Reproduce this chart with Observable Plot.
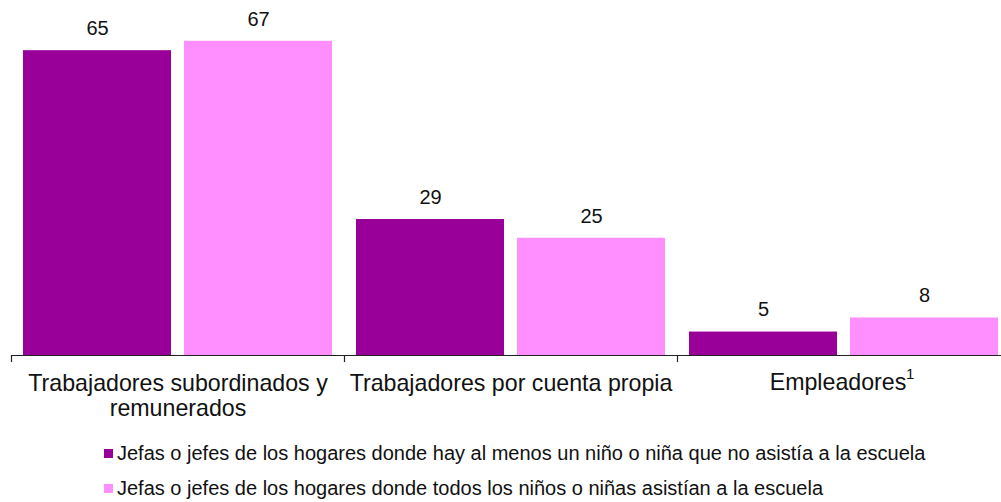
<!DOCTYPE html>
<html>
<head>
<meta charset="utf-8">
<script src="https://cdn.jsdelivr.net/npm/d3@7"></script>
<script src="https://cdn.jsdelivr.net/npm/@observablehq/plot@0.6"></script>
<style>
  html, body { margin: 0; padding: 0; background: #fff; }
  #wrap { position: relative; width: 1001px; height: 502px; overflow: hidden; font-family: "Liberation Sans", Arial, sans-serif; }
  #chart { position: absolute; left: 0; top: 0; width: 1010px; }
  #chart svg { max-width: none !important; }
  .leg { position: absolute; left: 104px; font-size: 20px; color: #111; white-space: nowrap; display: flex; align-items: center; }
  .sw { display: inline-block; width: 9px; height: 9px; margin-right: 4px; }
</style>
</head>
<body>
<div id="wrap">
  <div id="chart"></div>
  <div id="legend"></div>
</div>
<script>
const categories = ["Trabajadores subordinados y\nremunerados", "Trabajadores por cuenta propia", "Empleadores"];
const footnotes = ["", "", "1"];
const seriesNames = [
  "Jefas o jefes de los hogares donde hay al menos un niño o niña que no asistía a la escuela",
  "Jefas o jefes de los hogares donde todos los niños o niñas asistían a la escuela"
];
const seriesNoAsiste = [65, 29, 5];
const seriesAsisten = [67, 25, 8];
const colors = ["#990099", "#ff8fff"];

const d1 = categories.map((c, i) => ({cat: c, v: seriesNoAsiste[i]}));
const d2 = categories.map((c, i) => ({cat: c, v: seriesAsisten[i]}));
const labels = categories.map((c, i) => ({cat: c, note: footnotes[i]}));
const plain = labels.filter(d => !d.note);
const noted = labels.filter(d => d.note);

const half = 80.5;
const labelSize = 23.2;
const chart = Plot.plot({
  width: 1010,
  height: 430,
  marginLeft: 11,
  marginRight: 0,
  marginTop: 0,
  marginBottom: 75,
  style: {fontFamily: "Liberation Sans, Arial, sans-serif", color: "#111", background: "transparent", maxWidth: "none"},
  x: {domain: categories, padding: 0, axis: null},
  y: {domain: [0, 75.7], axis: null},
  marks: [
    Plot.barY(d1, {x: "cat", y: "v", fill: colors[0], insetLeft: 12, insetRight: 173}),
    Plot.barY(d2, {x: "cat", y: "v", fill: colors[1], insetLeft: 173, insetRight: 12}),
    Plot.text(d1, {x: "cat", y: "v", text: d => String(d.v), dx: -half, dy: -22, fontSize: 20, fill: "#111"}),
    Plot.text(d2, {x: "cat", y: "v", text: d => String(d.v), dx: half, dy: -22, fontSize: 20, fill: "#111"}),
    Plot.ruleY([0], {stroke: "#222", strokeWidth: 1.2}),
    Plot.ruleX(categories, {x: d => d, dx: -166.5, y1: 0, y2: -1.5, stroke: "#222", strokeWidth: 1.2}),
    Plot.text(plain, {x: "cat", y: () => 0, text: "cat", lineAnchor: "top", dy: 18, fontSize: labelSize, lineHeight: 1.08, fill: "#111"}),
    Plot.text(noted, {x: "cat", y: () => 0, text: "cat", lineAnchor: "top", dy: 18, dx: -6, fontSize: labelSize, fill: "#111"}),
    Plot.text(noted, {x: "cat", y: () => 0, text: "note", lineAnchor: "top", textAnchor: "start", dy: 13, dx: 62, fontSize: 15, fill: "#111"})
  ]
});
document.getElementById("chart").appendChild(chart);

const legend = document.getElementById("legend");
seriesNames.forEach((name, i) => {
  const div = document.createElement("div");
  div.className = "leg";
  div.style.top = (i === 0 ? 442 : 477) + "px";
  const sw = document.createElement("span");
  sw.className = "sw";
  sw.style.background = colors[i];
  div.appendChild(sw);
  div.appendChild(document.createTextNode(name));
  legend.appendChild(div);
});
</script>
</body>
</html>
